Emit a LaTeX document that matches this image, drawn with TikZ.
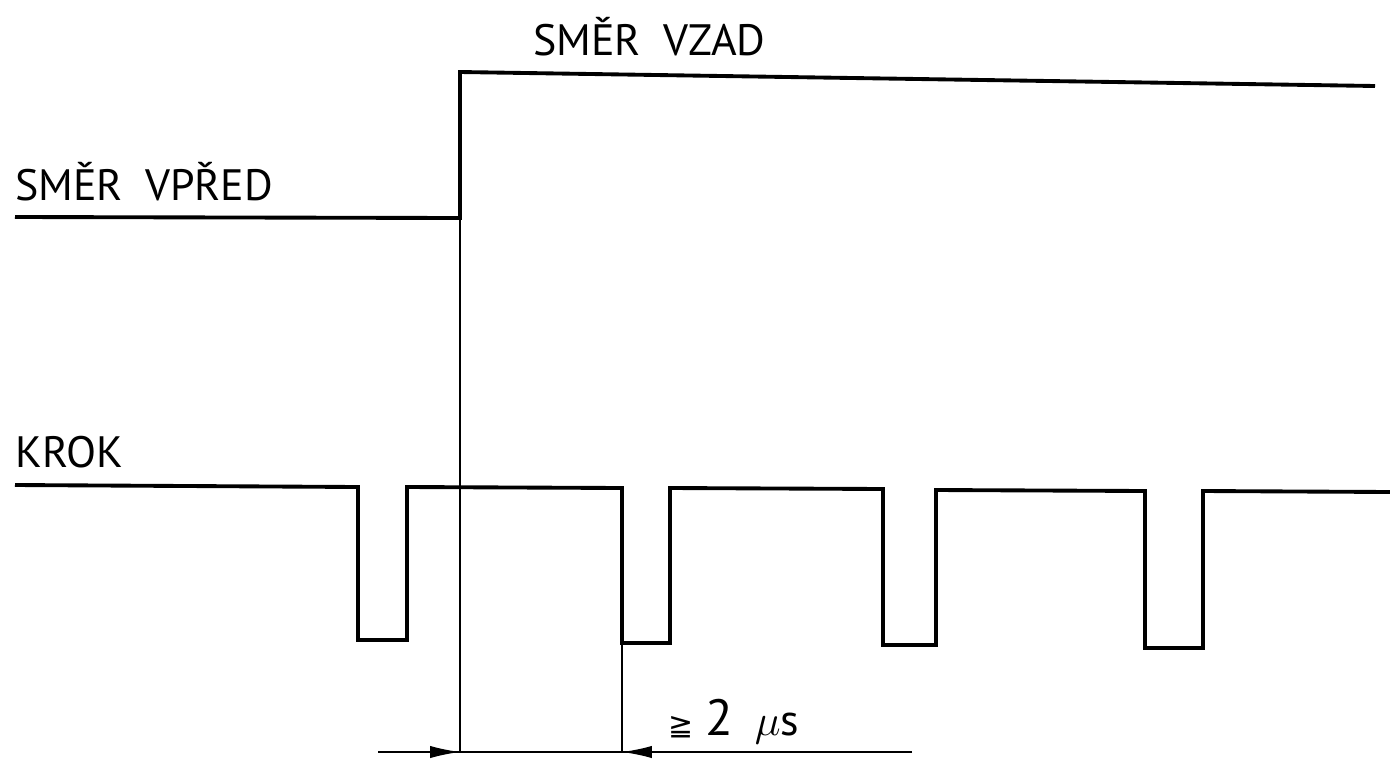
\documentclass[tikz,border=0pt]{standalone}
\usepackage{fontspec}
\setmainfont{PT Sans}
\newfontfamily\symfont{DejaVu Sans}
\usetikzlibrary{arrows.meta}

\begin{document}
\begin{tikzpicture}[x=0.02cm,y=-0.02cm,
  signal/.style={line width=2.2pt, line join=miter},
  guide/.style={line width=0.9pt},
  lbl/.style={font=\fontsize{25}{25}\selectfont, anchor=base west, inner sep=0pt},
  dimtip/.style={-{Latex[length=17pt,width=7pt]}}]
\useasboundingbox (0,0) rectangle (1390,758);
%% \draw[help lines, step=50] (0,0) grid (1390,758);

% direction signal
\node[lbl] (vpred) at (15,200) {SMĚR\enspace VPŘED};
\node[lbl] (vzad) at (533,55) {SMĚR\enspace VZAD};
\coordinate (edge) at (460,218);
\draw[signal] (15,217) -- (edge) -- (460,72) -- (1375,86);

% step pulses
\node[lbl] (krok) at (15,467) {KROK};
\coordinate (fall) at (622,643);
\draw[signal] (15,485) -- (358,487) -- (358,640) -- (407,640) -- (407,487)
  -- (622,488) -- (fall) -- (670,643) -- (670,488)
  -- (883,489) -- (883,645) -- (936,645) -- (936,490)
  -- (1145,491) -- (1145,648) -- (1203,648) -- (1203,491) -- (1390,492);

% timing dimension
\coordinate (a) at (460,752);
\coordinate (b) at (622,752);
\coordinate (l) at (378,752);
\coordinate (r) at (912,752);
\draw[guide] (edge) -- (a);
\draw[guide] (fall) -- (b);
\draw[guide] (l) -- (r);
\draw[guide, dimtip] (l) -- (a);
\draw[guide, dimtip] (r) -- (b);
\node[lbl] (dt) at (668,735) {{\symfont\fontsize{17}{17}\selectfont ≧}\ {\fontsize{29}{29}\selectfont 2}\enspace$\mu$s};
\end{tikzpicture}
\end{document}
